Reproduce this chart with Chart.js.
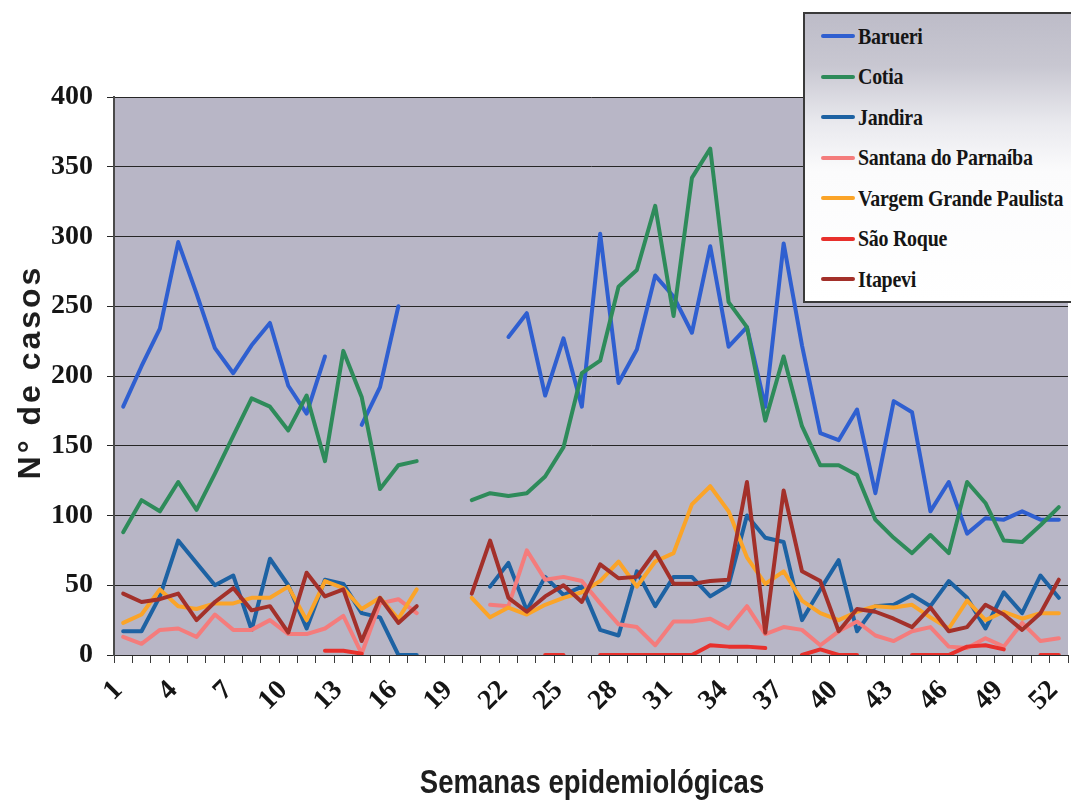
<!DOCTYPE html>
<html>
<head>
<meta charset="utf-8">
<script src="https://cdn.jsdelivr.net/npm/chart.js@4.4.0/dist/chart.umd.min.js"></script>
<style>
  html, body { margin: 0; padding: 0; background: #ffffff; }
  #wrap { position: relative; width: 1071px; height: 806px; overflow: hidden; }
  #chart { position: absolute; left: 0; top: 0; }
  #legend {
    position: absolute; left: 803px; top: 12px; width: 300px; height: 291px;
    box-sizing: border-box; border: 2px solid #3a3a3a;
    background: linear-gradient(180deg, #bdbcc8 0%, #c8c7d1 18%, #e9e9ee 38%, #fbfbfc 55%, #ffffff 100%);
  }
  .item { position: absolute; left: 16px; height: 30px; display: flex; align-items: center; }
  .sw { width: 34px; height: 4px; border-radius: 2px; }
  .lbl {
    font: bold 24px 'Liberation Serif', 'Times New Roman', serif; color: #151515;
    white-space: nowrap; margin-left: 3px; transform: scaleX(0.83); transform-origin: left center;
    letter-spacing: -0.3px;
  }
</style>
</head>
<body>
<div id="wrap">
  <canvas id="chart" width="1071" height="806"></canvas>
  <div id="legend"></div>
</div>
<script>
// Epidemiological weeks (categories) and the labels shown on the x axis
const weeks = ['1','2','3','4','5','6','7','8','9','10','11','12','13','14','15','16','17','18','19','20',
  '21','22','23','24','25','26','27','28','29','30','31','32','33','34','35','36','37','38','39','40',
  '41','42','43','44','45','46','47','48','49','50','51','52'];
const tickLabels = ['1','4','7','10','13','16','19','22','25','28','31','34','37','40','43','46','49','52'];
const yTicks = [0, 50, 100, 150, 200, 250, 300, 350, 400];

// Weekly case counts per municipality (null = no report that week)
const barueri = [178,207,234,296,259,220,202,222,238,193,173,214,null,165,192,250,null,null,null,null,
  null,228,245,186,227,178,302,195,219,272,257,231,293,221,235,178,295,222,159,154,
  176,116,182,174,103,124,87,98,97,103,97,97];
const cotia = [88,111,103,124,104,130,157,184,178,161,186,139,218,185,119,136,139,null,null,111,
  116,114,116,128,149,202,211,264,276,322,243,342,363,253,235,168,214,164,136,136,
  129,97,84,73,86,73,124,109,82,81,93,106];
const jandira = [17,17,42,82,66,50,57,18,69,50,19,54,51,30,27,0,0,null,null,null,
  49,66,32,56,43,49,18,14,60,35,56,56,42,50,100,84,81,25,47,68,
  17,35,36,43,35,53,41,19,45,30,57,41];
const santana = [13,8,18,19,13,29,18,18,25,15,15,19,28,1,37,40,30,null,null,null,
  36,35,75,54,56,53,37,22,20,7,24,24,26,19,35,15,20,18,7,17,
  24,14,10,17,20,6,5,12,6,23,10,12];
const vargem = [23,29,47,35,33,37,37,41,41,49,25,53,48,33,41,26,47,null,null,41,
  27,34,29,36,41,45,53,67,49,67,73,108,121,103,70,51,60,39,30,25,
  31,35,34,36,27,19,39,25,31,26,30,30];
const saoRoque = [null,null,null,null,null,null,null,null,null,null,null,3,3,1,null,null,null,null,null,null,
  null,null,null,0,0,null,0,0,0,0,0,0,7,6,6,5,null,0,4,0,
  0,null,null,0,0,0,6,7,4,null,0,0];
const itapevi = [44,38,40,44,25,38,48,32,35,16,59,42,47,10,41,23,35,null,null,44,
  82,41,31,42,50,38,65,55,56,74,51,51,53,54,124,16,118,60,53,17,
  33,31,26,20,34,17,20,36,29,18,30,54];

const seriesNames = ['Barueri', 'Cotia', 'Jandira', 'Santana do Parnaíba', 'Vargem Grande Paulista', 'São Roque', 'Itapevi'];
const seriesData = [barueri, cotia, jandira, santana, vargem, saoRoque, itapevi];
const seriesColors = ['#2f5fd0', '#2e8b5a', '#1d62a3', '#f47c7c', '#fba428', '#e8302c', '#a3302a'];

const plotBg = '#b8b6c6';
const tickFont = { family: "'Liberation Serif', 'Times New Roman', serif", size: 28, weight: 'bold' };

// Gray fill behind the plotting area
const plotBackground = {
  id: 'plotBackground',
  beforeDraw(chart) {
    const { ctx, chartArea: a } = chart;
    ctx.save();
    ctx.fillStyle = plotBg;
    ctx.fillRect(a.left, a.top, a.right - a.left, a.bottom - a.top);
    ctx.restore();
  }
};

// Axis titles (condensed / letter-spaced bold sans)
const axisTitles = {
  id: 'axisTitles',
  afterDraw(chart) {
    const { ctx, chartArea: a } = chart;
    ctx.save();
    ctx.fillStyle = '#1e1e1e';
    ctx.textAlign = 'center';
    ctx.textBaseline = 'middle';
    // y title
    ctx.save();
    ctx.translate(31, (a.top + a.bottom) / 2 - 4);
    ctx.rotate(-Math.PI / 2);
    ctx.font = "bold 32px 'Liberation Sans', Arial, sans-serif";
    ctx.letterSpacing = '3px';
    ctx.fillText('N° de casos', 0, 0);
    ctx.restore();
    // x title
    ctx.save();
    ctx.translate(592, 784);
    ctx.scale(0.81, 1);
    ctx.font = "bold 34px 'Liberation Sans', Arial, sans-serif";
    ctx.fillText('Semanas epidemiológicas', 0, 0);
    ctx.restore();
    ctx.restore();
  }
};

const datasets = seriesData.map((d, i) => ({
  label: seriesNames[i],
  data: d,
  borderColor: seriesColors[i],
  backgroundColor: seriesColors[i],
  borderWidth: 4,
  pointRadius: 0,
  pointHoverRadius: 0,
  tension: 0,
  spanGaps: false,
  borderJoinStyle: 'round',
  borderCapStyle: 'round',
  order: seriesData.length - i
}));

new Chart(document.getElementById('chart'), {
  type: 'line',
  data: { labels: weeks, datasets },
  options: {
    responsive: false,
    animation: false,
    devicePixelRatio: 1,
    layout: { padding: { top: 97, right: 3, left: 0, bottom: 0 } },
    plugins: { legend: { display: false }, tooltip: { enabled: false } },
    scales: {
      x: {
        type: 'category',
        offset: true,
        grid: { offset: true, drawOnChartArea: false, drawTicks: true, tickLength: 8, color: '#3a3a3a', lineWidth: 1 },
        border: { display: true, color: '#2a2a2a', width: 1 },
        ticks: {
          autoSkip: false, minRotation: 45, maxRotation: 45,
          padding: 11, labelOffset: -5,
          color: '#151515', font: tickFont,
          callback(value) {
            const l = this.getLabelForValue(value);
            return tickLabels.includes(l) ? l : '';
          }
        },
        afterFit(scale) {
          scale.height = 151;
          scale.paddingLeft = 0;
          scale.paddingRight = 0;
        }
      },
      y: {
        min: 0, max: 400,
        afterBuildTicks(scale) { scale.ticks = yTicks.map(v => ({ value: v })); },
        grid: { color: '#262626', lineWidth: 1, drawTicks: true, tickLength: 7 },
        border: { display: true, color: '#4a4a4a', width: 2 },
        ticks: { color: '#151515', font: tickFont, padding: 14 },
        afterFit(scale) { scale.width = 114; }
      }
    }
  },
  plugins: [plotBackground, axisTitles]
});

// Legend box
const legend = document.getElementById('legend');
const rowTops = [22, 62.5, 103, 143.5, 184, 224.5, 265];
seriesNames.forEach((name, i) => {
  const item = document.createElement('div');
  item.className = 'item';
  item.style.top = (rowTops[i] - 15) + 'px';
  const sw = document.createElement('div');
  sw.className = 'sw';
  sw.style.background = seriesColors[i];
  const lbl = document.createElement('span');
  lbl.className = 'lbl';
  lbl.textContent = name;
  item.appendChild(sw);
  item.appendChild(lbl);
  legend.appendChild(item);
});
</script>
</body>
</html>
